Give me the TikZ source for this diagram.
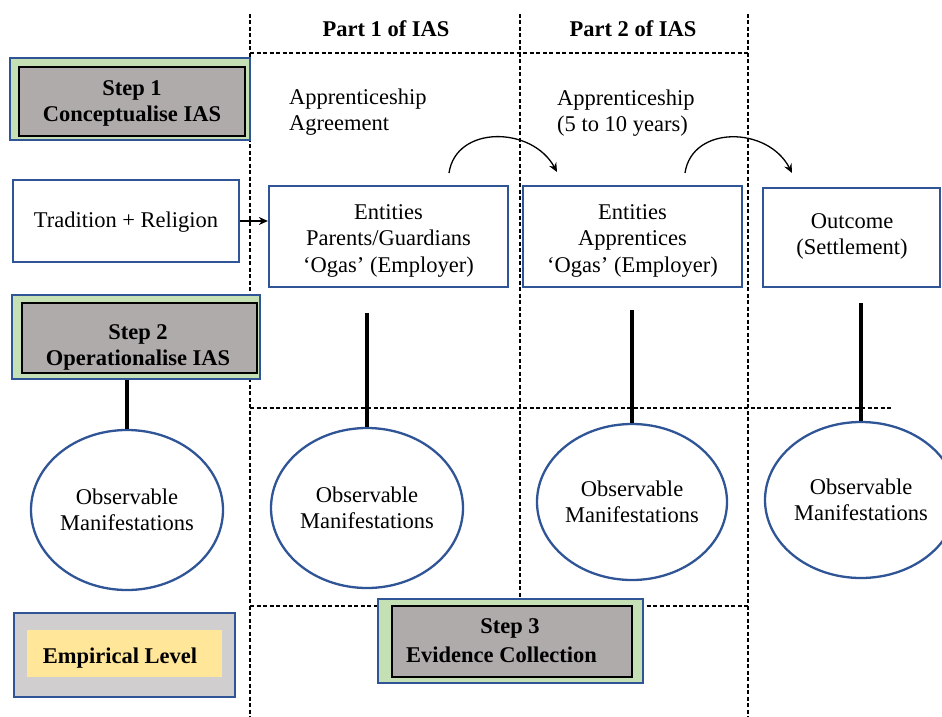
\documentclass[tikz,border=0pt]{standalone}
\usepackage{fontspec}
\setmainfont{Liberation Serif}
\usetikzlibrary{arrows.meta,shapes.geometric}
\definecolor{bblue}{HTML}{2F5597}
\definecolor{lgreen}{HTML}{C5E0B4}
\definecolor{mgray}{HTML}{AFABAB}
\definecolor{lgray}{HTML}{D0CECE}
\definecolor{lyellow}{HTML}{FFE699}
\tikzset{
  txt/.style={font=\rmfamily\fontsize{22.5}{26.5}\selectfont, align=center, inner sep=0pt},
  btxt/.style={txt, font=\rmfamily\fontsize{22.5}{26}\selectfont\bfseries},
  outerbox/.style={draw=bblue, line width=2.4pt, fill=lgreen, inner sep=0pt},
  innerbox/.style={draw=black, line width=1.4pt, fill=mgray, inner sep=0pt},
  bluebox/.style={draw=bblue, line width=2.2pt, fill=white, inner sep=0pt},
  oval/.style={ellipse, draw=bblue, line width=2.3pt, fill=white, inner sep=0pt, font=\rmfamily\fontsize{22.5}{26}\selectfont, align=center},
  grid/.style={line width=1.2pt, dash pattern=on 4pt off 2.5pt},
  stem/.style={line width=4pt, black},
  conn/.style={line width=1.3pt, -{Stealth[length=9pt,width=8pt]}}
}
\begin{document}
\begin{tikzpicture}[x=1pt,y=-1pt]
\useasboundingbox (0,0) rectangle (942,717);

% dashed grid
\draw[grid] (250,14) -- (250,717);
\draw[grid] (520,14) -- (520,606);
\draw[grid] (748,14) -- (748,717);
\draw[grid] (250,53) -- (748,53);
\draw[grid] (250,408) -- (892,408);
\draw[grid] (250,606) -- (748,606);

% part headers
\node[btxt] (p1) at (386,29) {Part 1 of IAS};
\node[btxt] (p2) at (633,29) {Part 2 of IAS};

% step 1
\node[outerbox, minimum width=240pt, minimum height=82pt] (s1o) at (130,99) {};
\node[innerbox, minimum width=226pt, minimum height=69pt] (s1i) at (132,101.5) {};
\node[btxt] (s1) at (132,103) {Step 1\\Conceptualise IAS};

% step 2
\node[outerbox, minimum width=248pt, minimum height=84pt] (s2o) at (136,337) {};
\node[innerbox, minimum width=235pt, minimum height=70pt] (s2i) at (139.5,338) {};
\node[btxt] (s2) at (138,347) {Step 2\\Operationalise IAS};

% empirical level
\node[draw=bblue, line width=2.2pt, fill=lgray, minimum width=221pt, minimum height=84pt] (emo) at (124.5,655) {};
\node[fill=lyellow, minimum width=195pt, minimum height=47pt] (emi) at (124.5,653.5) {};
\node[btxt] (em) at (120,658) {Empirical Level};

% step 3
\node[outerbox, minimum width=265pt, minimum height=84pt] (s3o) at (510.5,641) {};
\node[innerbox, minimum width=240pt, minimum height=71pt] (s3i) at (512,641.5) {};
\node[btxt] (s3a) at (510,628) {Step 3};
\node[btxt, anchor=west] (s3b) at (406,655) {Evidence Collection};

% labels
\node[txt, anchor=west, align=left] (lab1) at (289,112) {Apprenticeship\\Agreement};
\node[txt, anchor=west, align=left] (lab2) at (557,113) {Apprenticeship\\(5 to 10 years)};

% boxes
\node[bluebox, minimum width=226pt, minimum height=82pt] (trad) at (126,221) {};
\node[txt] (tradt) at (126,222) {Tradition + Religion};
\node[bluebox, minimum width=239pt, minimum height=101pt] (ent1) at (388.5,236.5) {};
\node[txt] (ent1t) at (388.5,240.5) {Entities\\Parents/Guardians\\‘Ogas’ (Employer)};
\node[bluebox, minimum width=219pt, minimum height=101pt] (ent2) at (632.5,236.5) {};
\node[txt] (ent2t) at (632.5,240.5) {Entities\\Apprentices\\‘Ogas’ (Employer)};
\node[bluebox, minimum width=177pt, minimum height=99pt] (out) at (851.5,237.5) {};
\node[txt] (outt) at (852,236.5) {Outcome\\(Settlement)};

% ellipses
\node[oval, minimum width=192pt, minimum height=160pt] (e1) at (127,510) {Observable\\Manifestations};
\node[oval, minimum width=192pt, minimum height=160pt] (e2) at (367,508) {Observable\\Manifestations};
\node[oval, minimum width=190pt, minimum height=156pt] (e3) at (632,502) {Observable\\Manifestations};
\node[oval, minimum width=192pt, minimum height=156pt] (e4) at (861,500) {Observable\\Manifestations};

% stems
\coordinate (c1) at (367,313);
\coordinate (c2) at (632,310);
\coordinate (c3) at (861,303);
\draw[stem] (e1.north |- s2o.south) -- (e1.north);
\draw[stem] (c1) -- (e2.north);
\draw[stem] (c2) -- (e3.north);
\draw[stem] (c3) -- (e4.north);

% arrows
\draw[conn] (trad.east) -- (trad.east -| ent1.west);
\coordinate (a1s) at (449,173);
\coordinate (a1e) at (557,172);
\coordinate (a2s) at (685,173);
\coordinate (a2e) at (792,173);
\draw[conn] (a1s) .. controls (456,125) and (532,126) .. (a1e);
\draw[conn] (a2s) .. controls (692,125) and (768,126) .. (a2e);
\end{tikzpicture}
\end{document}
